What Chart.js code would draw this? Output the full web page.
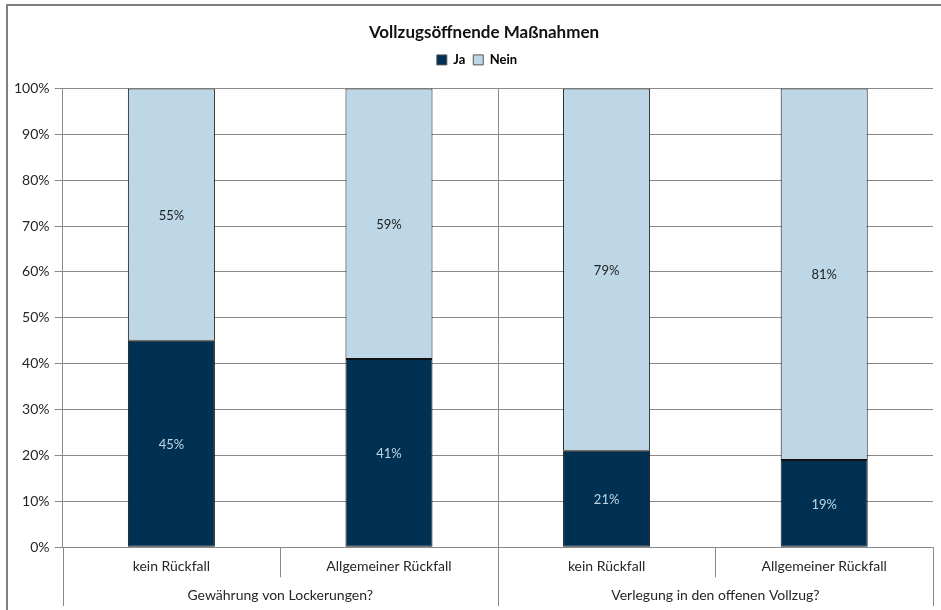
<!DOCTYPE html>
<html>
<head>
<meta charset="utf-8">
<script src="https://cdn.jsdelivr.net/npm/chart.js@4/dist/chart.umd.min.js"></script>
<style>
html,body{margin:0;padding:0;background:#fff;}
#wrap{width:941px;height:610px;position:relative;}
</style>
</head>
<body>
<div id="wrap"><canvas id="c" width="941" height="610"></canvas></div>
<script>
const categories = ['kein Rückfall', 'Allgemeiner Rückfall', 'kein Rückfall', 'Allgemeiner Rückfall'];
const groups = ['Gewährung von Lockerungen?', 'Verlegung in den offenen Vollzug?'];
const groupSizes = [2, 2];
const jaValues = [45, 41, 21, 19];
const neinValues = [55, 59, 79, 81];
const seriesNames = ['Ja', 'Nein'];
const titleText = 'Vollzugsöffnende Maßnahmen';

const FONT = 'Lato, "Open Sans", sans-serif';
const GRID = '#8a8a8a';

const frame = {
  id: 'frame',
  beforeInit(chart) {
    const lg = chart.legend;
    if (lg) {
      const orig = lg.fit.bind(lg);
      lg.fit = function () { orig(); this.height += 12; };
    }
  },
  afterLayout(chart) {
    if (chart.titleBlock) { chart.titleBlock.left += 13; chart.titleBlock.right += 13; }
    if (chart.legend) { chart.legend.left += 6; chart.legend.right += 6; }
  },
  beforeDraw(chart) {
    const ctx = chart.ctx;
    ctx.save();
    ctx.strokeStyle = '#7f7f7f';
    ctx.lineWidth = 2;
    ctx.beginPath();
    ctx.moveTo(7, 615);
    ctx.lineTo(7, 5);
    ctx.lineTo(946, 5);
    ctx.stroke();
    ctx.restore();
  }
};

const labelsPlugin = {
  id: 'vals',
  afterDatasetsDraw(chart) {
    const ctx = chart.ctx;
    ctx.save();
    ctx.font = '13px ' + FONT;
    ctx.textAlign = 'center';
    ctx.textBaseline = 'middle';
    chart.data.datasets.forEach((ds, di) => {
      const meta = chart.getDatasetMeta(di);
      meta.data.forEach((el, i) => {
        const p = el.getProps(['x', 'y', 'base'], true);
        ctx.fillStyle = di === 0 ? '#bdd7e7' : '#222222';
        ctx.fillText(ds.data[i] + '%', p.x, (p.y + p.base) / 2 + 1);
      });
    });
    ctx.restore();
  }
};

const axisPlugin = {
  id: 'multiAxis',
  afterDraw(chart) {
    const ctx = chart.ctx;
    const xs = chart.scales.x;
    const area = chart.chartArea;
    const n = categories.length;
    const bounds = [];
    for (let i = 0; i <= n; i++) {
      if (i === 0) bounds.push(xs.left);
      else if (i === n) bounds.push(xs.right);
      else bounds.push((xs.getPixelForValue(i - 1) + xs.getPixelForValue(i)) / 2);
    }
    const groupEdges = [0];
    groupSizes.forEach(s => groupEdges.push(groupEdges[groupEdges.length - 1] + s));
    ctx.save();
    ctx.strokeStyle = GRID;
    ctx.lineWidth = 1;
    bounds.forEach((bx, i) => {
      const x = Math.round(bx) + 0.5;
      const isGroup = groupEdges.includes(i);
      ctx.beginPath();
      if (isGroup && i !== 0 && i !== n) {
        ctx.moveTo(x, area.top);
        ctx.lineTo(x, 606);
      } else if (isGroup) {
        ctx.moveTo(x, area.bottom);
        ctx.lineTo(x, 606);
      } else {
        ctx.moveTo(x, area.bottom);
        ctx.lineTo(x, area.bottom + 30);
      }
      ctx.stroke();
    });
    ctx.font = '14px ' + FONT;
    ctx.fillStyle = '#262626';
    ctx.textAlign = 'center';
    ctx.textBaseline = 'middle';
    groups.forEach((g, gi) => {
      const l = bounds[groupEdges[gi]], r = bounds[groupEdges[gi + 1]];
      ctx.fillText(g, (l + r) / 2, 595);
    });
    ctx.restore();
  }
};

new Chart(document.getElementById('c'), {
  type: 'bar',
  data: {
    labels: categories,
    datasets: [
      { label: seriesNames[0], data: jaValues, backgroundColor: '#003152', borderColor: '#111111', borderWidth: 1, borderSkipped: false },
      { label: seriesNames[1], data: neinValues, backgroundColor: '#bdd7e7', borderColor: '#111111', borderWidth: 1, borderSkipped: false }
    ]
  },
  options: {
    responsive: false,
    animation: false,
    devicePixelRatio: 1,
    layout: { padding: { left: 9, right: 8, top: 22, bottom: 32 } },
    datasets: { bar: { categoryPercentage: 1, barPercentage: 0.4 } },
    plugins: {
      title: {
        display: true, text: titleText, color: '#111111',
        font: { family: FONT, size: 17, weight: 'bold' },
        padding: { top: 0, bottom: 3 }
      },
      legend: {
        display: true,
        labels: {
          color: '#262626', boxWidth: 10, boxHeight: 10, padding: 8,
          font: { family: FONT, size: 13, weight: 'bold' },
          generateLabels(chart) {
            return chart.data.datasets.map((ds, i) => ({
              text: ds.label, fillStyle: ds.backgroundColor, strokeStyle: '#555', lineWidth: 1, datasetIndex: i
            }));
          }
        }
      },
      tooltip: { enabled: false }
    },
    scales: {
      x: {
        stacked: true,
        grid: { display: false },
        border: { display: false },
        ticks: { color: '#262626', font: { family: FONT, size: 14 }, padding: 3, maxRotation: 0 }
      },
      y: {
        stacked: true,
        min: 0, max: 100,
        grid: { color: GRID, tickLength: 8, drawTicks: true },
        border: { color: GRID },
        ticks: { stepSize: 10, color: '#262626', padding: 5, font: { family: FONT, size: 14 }, callback: v => v + '%' }
      }
    }
  },
  plugins: [frame, labelsPlugin, axisPlugin]
});
</script>
</body>
</html>
